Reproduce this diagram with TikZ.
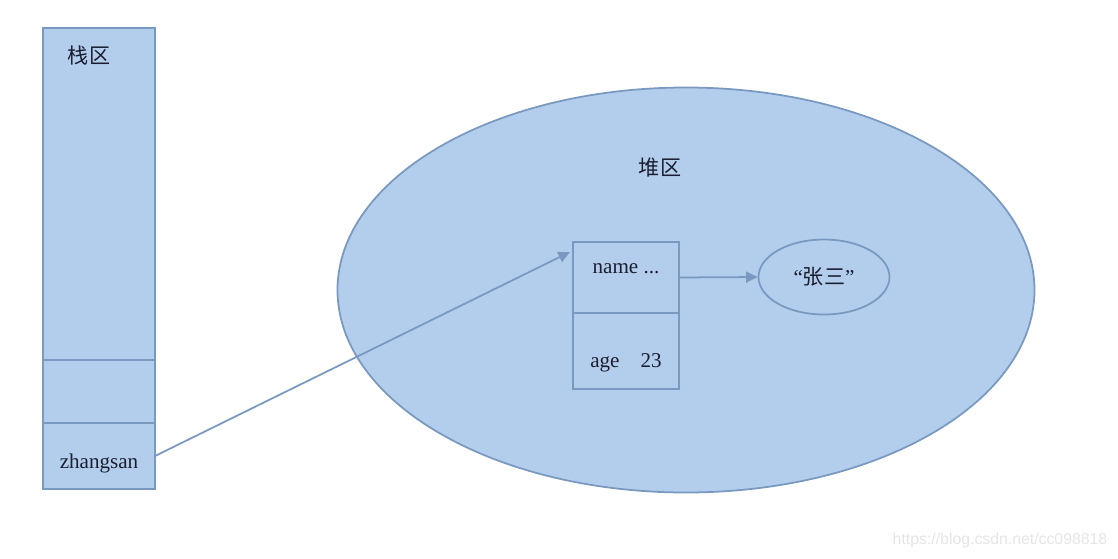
\documentclass[tikz,border=0pt]{standalone}
\usepackage{fontspec}
\setmainfont{Liberation Serif}
\newfontfamily\cjk{Noto Sans CJK SC}
\newfontfamily\wmfont{Liberation Sans}
\usetikzlibrary{positioning,arrows,calc,fit,arrows.meta,shapes.geometric}
\definecolor{areafill}{RGB}{178,206,236}
\definecolor{areaedge}{RGB}{122,153,192}
\definecolor{inktext}{RGB}{28,30,48}
\tikzset{
	memory/.style={>={Triangle[length=2.3mm,width=2.2mm]},shorten >=0pt,
		line width=1pt,font=\fontsize{12}{14}\selectfont,text=inktext},
	cell/.style={rectangle,draw=areaedge,fill=areafill,minimum width=2.24cm,
		inner sep=0pt,outer sep=0pt},
	field/.style={rectangle,draw=areaedge,fill=areafill,minimum width=2.12cm,
		inner sep=0pt,outer sep=0pt},
	region/.style={ellipse,draw=areaedge,fill=areafill,inner sep=0pt},
	pointer/.style={->,draw=areaedge,fill=areaedge,line width=1pt}
}

\begin{document}
\begin{tikzpicture}[memory]
		\useasboundingbox (0,0) rectangle (22.36,-11.16);
		
		% stack
		\node[cell,minimum height=6.64cm] (stk) at (1.98,-3.88) {};
		\node[cell,minimum height=1.26cm] (slot) [below=0 of stk] {};
		\node[cell,minimum height=1.32cm,text height=0.58cm,text depth=0.1cm] (var) [below=0 of slot] {zhangsan};
		\node (stkname) [below=0.22cm of stk.north,xshift=-0.2cm] {\cjk 栈区};
		
		% heap
		\node[region,minimum width=13.94cm,minimum height=8.1cm] (heap) at (13.72,-5.8) {};
		\node (heapname) at (13.2,-3.36) {\cjk 堆区};
		\node[field,minimum height=1.42cm,text height=0.3cm,text depth=0.46cm] (fname) at (12.52,-5.55) {name ...};
		\node[field,minimum height=1.52cm,text height=0.74cm,text depth=0.1cm] (fage) [below=0 of fname] {age\quad 23};
		\node[region,minimum width=2.62cm,minimum height=1.5cm] (str) at (16.48,-5.54) {“{\cjk 张三}”};
		
		\draw[pointer,shorten >=2pt] (var.east) -- (fname.153);
		\draw[pointer] (fname.east) -- (str.west);
		
		\node[text=black!10,font=\wmfont\fontsize{9}{11}\selectfont] (mark) at (20.0,-10.8) {https://blog.csdn.net/cc098818};
\end{tikzpicture}
\end{document}
